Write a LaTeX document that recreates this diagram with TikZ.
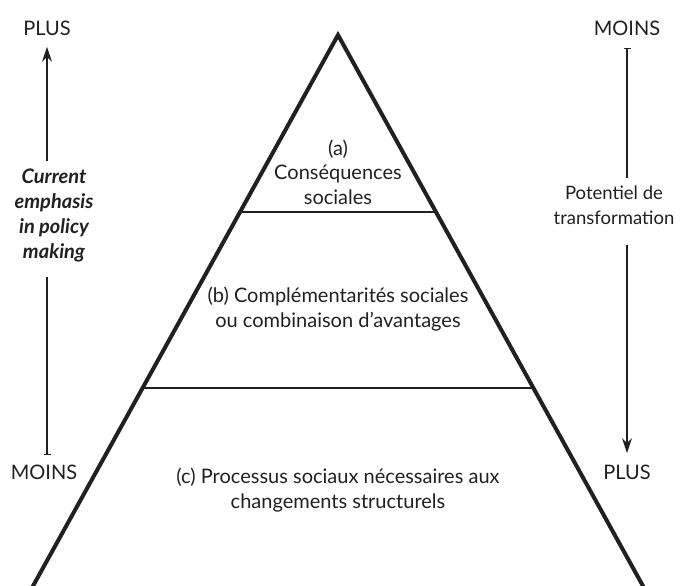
\documentclass[tikz,border=0pt]{standalone}
\usepackage{fontspec}
\setmainfont{Lato}
\definecolor{ink}{RGB}{35,31,32}
\usetikzlibrary{arrows.meta,calc,positioning}

\newcommand{\tierfont}{\fontsize{20}{24.5}\selectfont}
\newcommand{\sidefont}{\fontsize{18.5}{25}\selectfont}
\newcommand{\emphfont}{\fontsize{20}{25}\selectfont\bfseries\itshape}

\begin{document}
\begin{tikzpicture}[x=1pt,y=-1pt,line cap=round,
                    every node/.style={font=\tierfont,text=ink},
                    tier/.style={align=center},
                    scalelabel/.style={align=center},
                    edge/.style={draw=ink,line width=4pt,line join=miter,line cap=butt},
                    divider/.style={draw=ink,line width=1.8pt,line cap=butt},
                    axis/.style={draw=ink,line width=1.2pt,line cap=butt},
                    uptip/.style={-{Stealth[length=15pt,width=10pt]}},
                    stopbar/.style={-{Bar[width=7pt,line width=1.2pt]}},
                  ]
  \useasboundingbox (0,0) rectangle (681,586);

  % pyramid
  \coordinate (top) at (338,35);
  \coordinate (bl)  at (33,586);
  \coordinate (br)  at (643,586);
  \draw[edge] ($(top)!1.05!(bl)$) -- (top) -- ($(top)!1.05!(br)$);
  \draw[divider] ($(top)!0.321!(bl)$) -- ($(top)!0.321!(br)$);
  \draw[divider] ($(top)!0.641!(bl)$) -- ($(top)!0.641!(br)$);

  \node[tier] (a) at (338,172) {(a)\\Conséquences\\sociales};
  \node[tier] (b) at (338,309) {(b) Complémentarités sociales\\ou combinaison d’avantages};
  \node[tier] (c) at (338,490) {(c) Processus sociaux nécessaires aux\\changements structurels};

  % left scale
  \node (plusL)  at (47,28)  {PLUS};
  \node[scalelabel,font=\emphfont] (emph) at (54,215) {Current\\emphasis\\in policy\\making};
  \node (moinsL) at (44,472) {MOINS};

  % right scale
  \node (moinsR) at (627,28) {MOINS};
  \node[scalelabel,font=\sidefont] (pot) at (614,205) {Potentiel de\\transformation};
  \node (plusR)  at (627,472) {PLUS};

  \draw[axis,uptip,shorten <=4pt,shorten >=8pt] (plusL |- emph.north) -- (plusL.south);
  \draw[axis,stopbar,shorten <=12pt,shorten >=6pt] (plusL |- emph.south) -- (plusL |- moinsL.north);
  \draw[axis,stopbar,shorten <=4pt,shorten >=9pt] (moinsR |- pot.north) -- (moinsR.south);
  \draw[axis,uptip,shorten <=17pt,shorten >=8pt] (moinsR |- pot.south) -- (moinsR |- plusR.north);
\end{tikzpicture}
\end{document}
